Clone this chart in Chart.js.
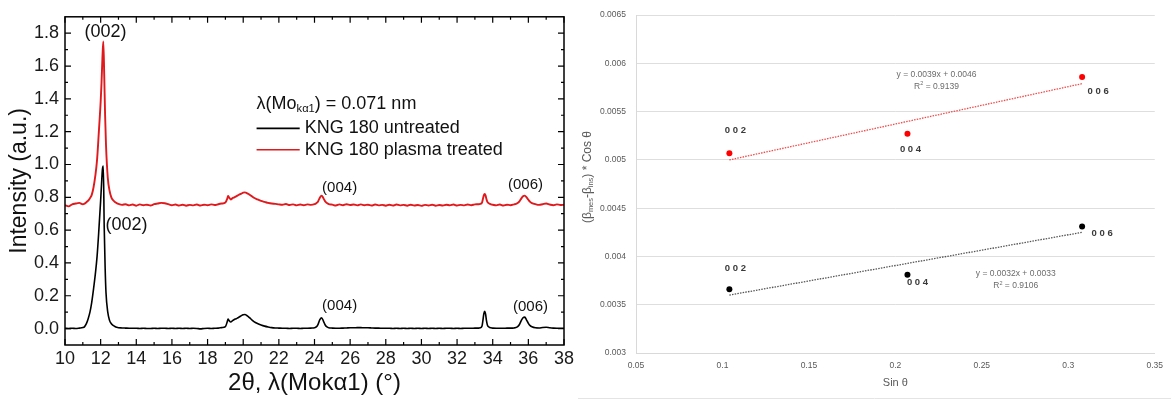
<!DOCTYPE html>
<html>
<head>
<meta charset="utf-8">
<script src="https://cdn.jsdelivr.net/npm/chart.js@4.4.1/dist/chart.umd.min.js"></script>
<style>
  body { margin: 0; background: #fff; }
  #wrap { position: relative; width: 1171px; height: 401px; overflow: hidden; }
  #xrd { position: absolute; left: 0; top: 0; }
  #wh { position: absolute; left: 578px; top: 0; }
</style>
</head>
<body>
<div id="wrap">
  <canvas id="xrd" width="578" height="401"></canvas>
  <canvas id="wh" width="593" height="401"></canvas>
</div>
<script>
// ---- left panel: XRD patterns ----
const twoTheta = [
  10.0, 10.2, 10.4, 10.6, 10.8, 11.0,
  11.1, 11.2, 11.3, 11.4, 11.5, 11.6, 11.7, 11.8, 11.9, 12.0, 12.05, 12.1, 12.15, 12.2, 12.25, 12.3, 12.4, 12.5, 12.6, 12.7, 12.8, 12.9,
  13.0, 13.2, 13.4, 13.6, 13.8, 14.0, 14.2, 14.4, 14.6, 14.8, 15.0, 15.2, 15.4, 15.6, 15.8, 16.0, 16.2, 16.4, 16.6, 16.8, 17.0, 17.2, 17.4, 17.6, 17.8, 18.0, 18.2, 18.4, 18.6, 18.8,
  19.0, 19.1, 19.15, 19.2, 19.3, 19.4, 19.5, 19.6, 19.7, 19.8, 19.9, 20.0, 20.1, 20.2, 20.3, 20.4, 20.5, 20.6, 20.8, 21.0, 21.2, 21.4, 21.6, 21.8, 22.0,
  22.2, 22.4, 22.6, 22.8, 23.0, 23.2, 23.4, 23.6, 23.8, 24.0,
  24.1, 24.2, 24.3, 24.4, 24.5, 24.6, 24.7, 24.8,
  25.0, 25.2, 25.4, 25.6, 25.8, 26.0, 26.2, 26.4, 26.6, 26.8, 27.0, 27.2, 27.4, 27.6, 27.8, 28.0, 28.2, 28.4, 28.6, 28.8, 29.0,
  29.2, 29.4, 29.6, 29.8, 30.0, 30.2, 30.4, 30.6, 30.8, 31.0, 31.2, 31.4, 31.6, 31.8, 32.0, 32.2, 32.4, 32.6, 32.8, 33.0, 33.2,
  33.3, 33.4, 33.45, 33.5, 33.55, 33.6, 33.65, 33.7, 33.8, 33.9, 34.0,
  34.2, 34.4, 34.6, 34.8, 35.0, 35.2,
  35.3, 35.4, 35.5, 35.6, 35.7, 35.8, 35.9, 36.0, 36.1, 36.2, 36.4,
  36.6, 36.8, 37.0, 37.2, 37.4, 37.6, 37.8, 38.0
];
const untreated = [
  0.002, 0.001, 0.002, 0.001, 0.003, 0.006,
  0.012, 0.03, 0.06, 0.1, 0.16, 0.24, 0.33, 0.44, 0.6, 0.78, 0.88, 0.97, 0.99, 0.62, 0.38, 0.22, 0.1, 0.05, 0.03, 0.02, 0.013, 0.008,
  0.005, 0.004, 0.003, 0.002, 0.002, 0.002, 0.001, 0.002, 0.001, 0.001, 0.002, 0.001, 0.002, 0.002, 0.001, 0.002, 0.001, 0.002, 0.001, 0.002, 0.001, 0.002, 0.001, -0.002, 0.001, 0.002, 0.001, 0.002, 0.003, 0.006,
  0.012, 0.04, 0.058, 0.05, 0.04, 0.048, 0.055, 0.06, 0.066, 0.072, 0.079, 0.084, 0.086, 0.08, 0.072, 0.062, 0.052, 0.043, 0.031, 0.022, 0.015, 0.01, 0.006, 0.004, 0.003,
  0.002, 0.002, 0.001, 0.002, 0.002, 0.001, 0.002, 0.002, 0.003, 0.005,
  0.01, 0.026, 0.054, 0.066, 0.046, 0.022, 0.01, 0.005,
  0.003, 0.002, 0.002, 0.003, 0.004, 0.005, 0.005, 0.006, 0.006, 0.005, 0.005, 0.004, 0.003, 0.003, 0.002, 0.002, 0.002, 0.001, 0.002, 0.001, 0.002,
  0.001, 0.002, 0.001, 0.002, 0.001, 0.002, 0.001, 0.002, 0.001, 0.002, 0.001, 0.002, 0.002, 0.001, 0.002, 0.001, 0.002, 0.002, 0.002, 0.003, 0.003,
  0.005, 0.016, 0.05, 0.09, 0.106, 0.088, 0.048, 0.022, 0.009, 0.005, 0.003,
  0.002, 0.002, 0.002, 0.003, 0.003, 0.004,
  0.006, 0.012, 0.025, 0.048, 0.066, 0.07, 0.052, 0.032, 0.018, 0.011, 0.005,
  0.004, 0.007, 0.008, 0.005, 0.003, 0.002, 0.002, 0.002
];
const plasma = [
  0.752, 0.745, 0.757, 0.762, 0.766, 0.758,
  0.762, 0.77, 0.78, 0.795, 0.815, 0.86, 0.93, 1.03, 1.2, 1.38, 1.5, 1.65, 1.75, 1.55, 1.3, 1.12, 0.92, 0.84, 0.8, 0.782, 0.772, 0.765,
  0.76, 0.754, 0.758, 0.751, 0.756, 0.749, 0.757, 0.752, 0.755, 0.75, 0.758, 0.762, 0.766, 0.764, 0.758, 0.752, 0.756, 0.75, 0.755, 0.749, 0.754, 0.751, 0.756, 0.75, 0.755, 0.752, 0.757, 0.753, 0.758, 0.762,
  0.768, 0.79, 0.808, 0.8, 0.787, 0.795, 0.8, 0.806, 0.812, 0.818, 0.823, 0.828, 0.83, 0.826, 0.82, 0.812, 0.805, 0.797, 0.787, 0.778, 0.772, 0.766, 0.762, 0.76, 0.757,
  0.755, 0.759, 0.753, 0.757, 0.751, 0.756, 0.752, 0.757, 0.754, 0.758,
  0.764, 0.775, 0.798, 0.81, 0.795, 0.775, 0.765, 0.759,
  0.755, 0.75, 0.757, 0.752, 0.758, 0.753, 0.756, 0.751, 0.757, 0.752, 0.755, 0.75, 0.756, 0.751, 0.754, 0.749, 0.755, 0.75, 0.756, 0.751, 0.754,
  0.749, 0.755, 0.75, 0.753, 0.748, 0.754, 0.75, 0.755, 0.749, 0.753, 0.75, 0.755, 0.751, 0.756, 0.75, 0.754, 0.751, 0.756, 0.752, 0.757, 0.758,
  0.76, 0.768, 0.79, 0.812, 0.82, 0.81, 0.788, 0.772, 0.762, 0.757, 0.755,
  0.751, 0.756, 0.75, 0.755, 0.752, 0.757,
  0.76, 0.765, 0.775, 0.792, 0.806, 0.81, 0.8, 0.785, 0.772, 0.765, 0.758,
  0.754, 0.758, 0.762, 0.756, 0.752, 0.757, 0.753, 0.755
];
const xrdXTicks = [10, 12, 14, 16, 18, 20, 22, 24, 26, 28, 30, 32, 34, 36, 38];
const xrdYTicks = [0.0, 0.2, 0.4, 0.6, 0.8, 1.0, 1.2, 1.4, 1.6, 1.8];

// ---- right panel: (beta_mes - beta_ins) cos(theta) vs sin(theta) ----
const sinTheta = [0.104, 0.207, 0.308];
const whPlasma = [0.00507, 0.00527, 0.00586];
const whUntreated = [0.00366, 0.00381, 0.00431];
const fitX = [0.104, 0.308];
const fitPlasma = [0.00500, 0.00579];
const fitUntreated = [0.00360, 0.00425];
const hklLabels = ['0 0 2', '0 0 4', '0 0 6'];
const whXTicks = [0.05, 0.1, 0.15, 0.2, 0.25, 0.3, 0.35];
const whYTicks = [0.003, 0.0035, 0.004, 0.0045, 0.005, 0.0055, 0.006, 0.0065];
const whYLabels = ['0.003', '0.0035', '0.004', '0.0045', '0.005', '0.0055', '0.006', '0.0065'];

const SANS = "'Liberation Sans', Arial, sans-serif";

function pairs(xs, ys) {
  return xs.map((x, i) => ({ x: x, y: ys[i] }));
}

// text made of pieces, some of them subscripts
function drawRich(ctx, parts, x, y, size, align) {
  ctx.textAlign = 'left';
  let total = 0;
  parts.forEach(p => {
    ctx.font = (p.sub ? size * 0.62 : size) + 'px ' + SANS;
    p.w = ctx.measureText(p.t).width;
    total += p.w;
  });
  let cx = align === 'center' ? x - total / 2 : x;
  parts.forEach(p => {
    ctx.font = (p.sub ? size * 0.62 : size) + 'px ' + SANS;
    ctx.fillText(p.t, cx, p.sub ? y + size * 0.28 : y);
    cx += p.w;
  });
}

const xrdDecor = {
  id: 'xrdDecor',
  afterDraw(chart) {
    const { ctx, chartArea: a, scales: { x, y } } = chart;
    ctx.save();
    // frame
    ctx.strokeStyle = '#000';
    ctx.lineWidth = 1.5;
    ctx.strokeRect(a.left, a.top, a.right - a.left, a.bottom - a.top);

    // inward ticks on all four sides
    ctx.lineWidth = 1.2;
    ctx.beginPath();
    const xMinor = [];
    xrdXTicks.forEach((v, i) => { if (i > 0) xMinor.push((v + xrdXTicks[i - 1]) / 2); });
    const yMinor = [];
    xrdYTicks.forEach((v, i) => { if (i > 0) yMinor.push((v + xrdYTicks[i - 1]) / 2); });
    const xt = (v, len) => {
      const px = x.getPixelForValue(v);
      ctx.moveTo(px, a.bottom); ctx.lineTo(px, a.bottom - len);
      ctx.moveTo(px, a.top); ctx.lineTo(px, a.top + len);
    };
    const yt = (v, len) => {
      const py = y.getPixelForValue(v);
      ctx.moveTo(a.left, py); ctx.lineTo(a.left + len, py);
      ctx.moveTo(a.right, py); ctx.lineTo(a.right - len, py);
    };
    xrdXTicks.forEach(v => xt(v, 6));
    xMinor.forEach(v => xt(v, 3));
    xrdYTicks.forEach(v => yt(v, 6));
    yMinor.forEach(v => yt(v, 3));
    ctx.stroke();

    // axis titles
    ctx.fillStyle = '#111';
    ctx.textBaseline = 'middle';
    ctx.textAlign = 'center';
    ctx.font = '24px ' + SANS;
    ctx.fillText('2\u03b8, \u03bb(Mok\u03b11) (\u00b0)', (a.left + a.right) / 2, 383);
    ctx.save();
    ctx.translate(20, (a.top + a.bottom) / 2);
    ctx.rotate(-Math.PI / 2);
    ctx.font = '23px ' + SANS;
    ctx.fillText('Intensity (a.u.)', 0, 0);
    ctx.restore();

    // peak labels
    const peaks = [
      { t: '(002)', x: 12.27, y: 1.81, s: 18 },
      { t: '(002)', x: 13.45, y: 0.63, s: 18 },
      { t: '(004)', x: 25.41, y: 0.86, s: 15 },
      { t: '(006)', x: 35.84, y: 0.876, s: 15 },
      { t: '(004)', x: 25.41, y: 0.14, s: 15 },
      { t: '(006)', x: 36.12, y: 0.13, s: 15 }
    ];
    peaks.forEach(p => {
      ctx.font = p.s + 'px ' + SANS;
      ctx.fillText(p.t, x.getPixelForValue(p.x), y.getPixelForValue(p.y));
    });

    // legend
    const lx0 = x.getPixelForValue(20.75);
    const lx1 = x.getPixelForValue(23.17);
    const tx = x.getPixelForValue(23.45);
    drawRich(ctx, [
      { t: '\u03bb(Mo' }, { t: 'k\u03b11', sub: true }, { t: ') = 0.071 nm' }
    ], lx0, y.getPixelForValue(1.37), 18, 'left');
    const rows = [
      { label: chart.data.datasets[0].label, color: chart.data.datasets[0].borderColor, y: 1.22 },
      { label: chart.data.datasets[1].label, color: chart.data.datasets[1].borderColor, y: 1.09 }
    ];
    ctx.textAlign = 'left';
    rows.forEach(r => {
      const py = y.getPixelForValue(r.y);
      ctx.strokeStyle = r.color;
      ctx.lineWidth = 1.6;
      ctx.beginPath();
      ctx.moveTo(lx0, py); ctx.lineTo(lx1, py);
      ctx.stroke();
      ctx.font = '18px ' + SANS;
      ctx.fillText(r.label, tx, py);
    });
    ctx.restore();
  }
};

new Chart(document.getElementById('xrd'), {
  type: 'line',
  data: {
    datasets: [
      {
        label: 'KNG 180 untreated',
        data: pairs(twoTheta, untreated),
        borderColor: '#000000',
        borderWidth: 1.6,
        cubicInterpolationMode: 'monotone',
        pointRadius: 0
      },
      {
        label: 'KNG 180 plasma treated',
        data: pairs(twoTheta, plasma),
        borderColor: '#e0191c',
        borderWidth: 1.9,
        cubicInterpolationMode: 'monotone',
        pointRadius: 0
      }
    ]
  },
  options: {
    responsive: false,
    animation: false,
    layout: { padding: { top: 12, right: 14, left: 0, bottom: 0 } },
    plugins: { legend: { display: false }, tooltip: { enabled: false } },
    scales: {
      x: {
        type: 'linear',
        min: 10,
        max: 38,
        afterBuildTicks: s => { s.ticks = xrdXTicks.map(v => ({ value: v })); },
        afterFit: s => { s.height = 56; },
        grid: { display: false, drawTicks: false },
        border: { display: false },
        ticks: {
          autoSkip: false, maxRotation: 0, padding: 3,
          color: '#1a1a1a', font: { family: SANS, size: 18 },
          callback: v => String(v)
        }
      },
      y: {
        type: 'linear',
        min: -0.1,
        max: 1.9,
        afterBuildTicks: s => { s.ticks = xrdYTicks.map(v => ({ value: v })); },
        afterFit: s => { s.width = 65; },
        grid: { display: false, drawTicks: false },
        border: { display: false },
        ticks: {
          autoSkip: false, padding: 6,
          color: '#1a1a1a', font: { family: SANS, size: 18 },
          callback: v => v.toFixed(1)
        }
      }
    }
  },
  plugins: [xrdDecor]
});

// ---- right panel ----
const whDecor = {
  id: 'whDecor',
  afterDraw(chart) {
    const { ctx, chartArea: a, scales: { x, y } } = chart;
    ctx.save();
    ctx.textBaseline = 'middle';

    // hkl labels next to points
    const offs = [
      [[6, -23], [3, 16], [16, 14]],   // plasma treated
      [[6, -21], [10, 8], [20, 7]]     // untreated
    ];
    ctx.fillStyle = '#3a3a3a';
    ctx.font = 'bold 9.5px ' + SANS;
    ctx.textAlign = 'center';
    [whPlasma, whUntreated].forEach((ser, s) => {
      ser.forEach((v, i) => {
        const px = x.getPixelForValue(sinTheta[i]) + offs[s][i][0];
        const py = y.getPixelForValue(v) + offs[s][i][1];
        ctx.fillText(hklLabels[i], px, py);
      });
    });

    // trendline equations
    ctx.fillStyle = '#6b6b6b';
    const eqs = [
      { a: 'y = 0.0039x + 0.0046', r: '0.9139', x: 0.2238, y: 0.005885 },
      { a: 'y = 0.0032x + 0.0033', r: '0.9106', x: 0.2696, y: 0.00382 }
    ];
    eqs.forEach(e => {
      const px = x.getPixelForValue(e.x), py = y.getPixelForValue(e.y);
      ctx.textAlign = 'center';
      ctx.font = '8.5px ' + SANS;
      ctx.fillText(e.a, px, py);
      const w1 = ctx.measureText('R').width, w3 = ctx.measureText(' = ' + e.r).width;
      ctx.font = '5.5px ' + SANS;
      const w2 = ctx.measureText('2').width;
      const sx = px - (w1 + w2 + w3) / 2;
      ctx.textAlign = 'left';
      ctx.font = '8.5px ' + SANS;
      ctx.fillText('R', sx, py + 12);
      ctx.font = '5.5px ' + SANS;
      ctx.fillText('2', sx + w1, py + 9.5);
      ctx.font = '8.5px ' + SANS;
      ctx.fillText(' = ' + e.r, sx + w1 + w2, py + 12);
    });

    // axis titles
    ctx.fillStyle = '#595959';
    ctx.textAlign = 'center';
    ctx.font = '11px ' + SANS;
    ctx.fillText('Sin \u03b8', (a.left + a.right) / 2, 383);
    ctx.save();
    ctx.translate(10, 177);
    ctx.rotate(-Math.PI / 2);
    drawRich(ctx, [
      { t: '(\u03b2' }, { t: 'mes', sub: true }, { t: '-\u03b2' }, { t: 'ins', sub: true }, { t: ') * Cos \u03b8' }
    ], 0, 0, 12, 'center');
    ctx.restore();

    // faint frame line at the bottom of the panel
    ctx.strokeStyle = '#e4e4e4';
    ctx.lineWidth = 1;
    ctx.beginPath();
    ctx.moveTo(0, 398.5); ctx.lineTo(chart.width, 398.5);
    ctx.stroke();
    ctx.restore();
  }
};

new Chart(document.getElementById('wh'), {
  type: 'scatter',
  data: {
    datasets: [
      {
        label: 'plasma treated',
        data: pairs(sinTheta, whPlasma),
        backgroundColor: '#ff0000',
        borderWidth: 0,
        pointRadius: 3
      },
      {
        label: 'untreated',
        data: pairs(sinTheta, whUntreated),
        backgroundColor: '#000000',
        borderWidth: 0,
        pointRadius: 3
      },
      {
        label: 'fit plasma treated',
        data: pairs(fitX, fitPlasma),
        showLine: true,
        borderColor: '#f24a4a',
        borderWidth: 1.3,
        borderDash: [1.5, 1.2],
        pointRadius: 0
      },
      {
        label: 'fit untreated',
        data: pairs(fitX, fitUntreated),
        showLine: true,
        borderColor: '#555555',
        borderWidth: 1.3,
        borderDash: [1.5, 1.2],
        pointRadius: 0
      }
    ]
  },
  options: {
    responsive: false,
    animation: false,
    layout: { padding: { top: 13, right: 9, left: 0, bottom: 0 } },
    plugins: { legend: { display: false }, tooltip: { enabled: false } },
    scales: {
      x: {
        type: 'linear',
        min: 0.05,
        max: 0.35,
        afterBuildTicks: s => { s.ticks = whXTicks.map(v => ({ value: v })); },
        afterFit: s => { s.height = 48; },
        grid: { display: false, drawTicks: false },
        border: { display: true, color: '#d9d9d9', width: 1 },
        ticks: {
          autoSkip: false, maxRotation: 0, padding: 8,
          color: '#595959', font: { family: SANS, size: 8.5 },
          callback: v => String(v)
        }
      },
      y: {
        type: 'linear',
        min: 0.003,
        max: 0.0065,
        afterBuildTicks: s => { s.ticks = whYTicks.map(v => ({ value: v })); },
        afterFit: s => { s.width = 58; },
        grid: { color: '#dedede', lineWidth: 1, drawTicks: false },
        border: { display: true, color: '#d9d9d9', width: 1 },
        ticks: {
          autoSkip: false, padding: 10,
          color: '#595959', font: { family: SANS, size: 8.5 },
          callback: (v, i) => whYLabels[i]
        }
      }
    }
  },
  plugins: [whDecor]
});
</script>
</body>
</html>
